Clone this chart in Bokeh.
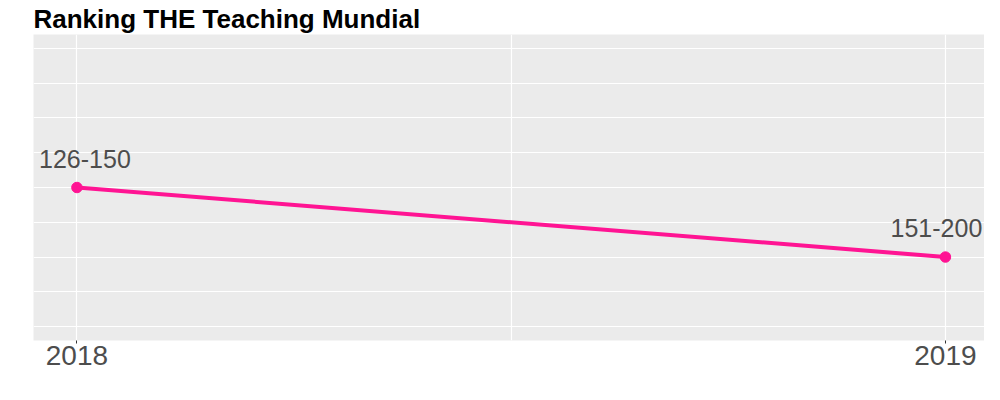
from bokeh.plotting import figure
from bokeh.models import ColumnDataSource, FixedTicker, Range1d
from bokeh.core.properties import value
from bokeh.embed import file_html
from bokeh.resources import INLINE

# Data
years = [2018, 2019]
rank_position = [2, 1]
rank_labels = ["126-150", "151-200"]
y_grid_ticks = [0, 0.5, 1, 1.5, 2, 2.5, 3, 3.5, 4]
x_grid_ticks = [2018, 2018.5, 2019]

# label nudges (screen px, style only)
label_nudge_x = [8, -9]

src = ColumnDataSource(dict(x=years, y=rank_position, label=rank_labels, dx=label_nudge_x))

FONT = "Liberation Sans"

p = figure(width=984, height=384, output_backend="svg", toolbar_location=None,
           x_range=Range1d(2017.95, 2019.045), y_range=Range1d(-0.2, 4.2),
           min_border_left=33, min_border_right=0, min_border_top=32, min_border_bottom=44)

p.title.text = "Ranking THE Teaching Mundial"
p.title.text_font = FONT
p.title.text_font_size = "26px"
p.title.text_font_style = "bold"
p.title.text_color = "black"
p.title.align = "left"
p.title.offset = 0
p.title.standoff = 2

p.background_fill_color = "#EBEBEB"
p.border_fill_color = "white"
p.outline_line_color = None

p.yaxis.visible = False
p.ygrid.ticker = FixedTicker(ticks=y_grid_ticks)
p.ygrid.grid_line_color = "white"
p.ygrid.grid_line_width = 1.2
p.xgrid.ticker = FixedTicker(ticks=x_grid_ticks)
p.xgrid.grid_line_color = "white"
p.xgrid.grid_line_width = 1.2

p.xaxis.ticker = FixedTicker(ticks=years)
p.xaxis.axis_line_color = None
p.xaxis.major_tick_line_color = "#333333"
p.xaxis.major_tick_out = 3
p.xaxis.major_tick_in = 0
p.xaxis.minor_tick_line_color = None
p.xaxis.major_label_text_font = FONT
p.xaxis.major_label_text_font_size = "28px"
p.xaxis.major_label_text_color = "#4D4D4D"
p.xaxis.major_label_standoff = 2

p.line("x", "y", source=src, line_color="#FF1493", line_width=4)
p.scatter("x", "y", source=src, size=10.5, fill_color="#FF1493", line_color="#FF1493")
p.text("x", "y", text="label", source=src, text_font=value(FONT), text_font_size="25px",
       text_color="#4D4D4D", text_align="center", text_baseline="middle",
       x_offset="dx", y_offset=-29)

open("out.html", "w").write(file_html(p, INLINE))
